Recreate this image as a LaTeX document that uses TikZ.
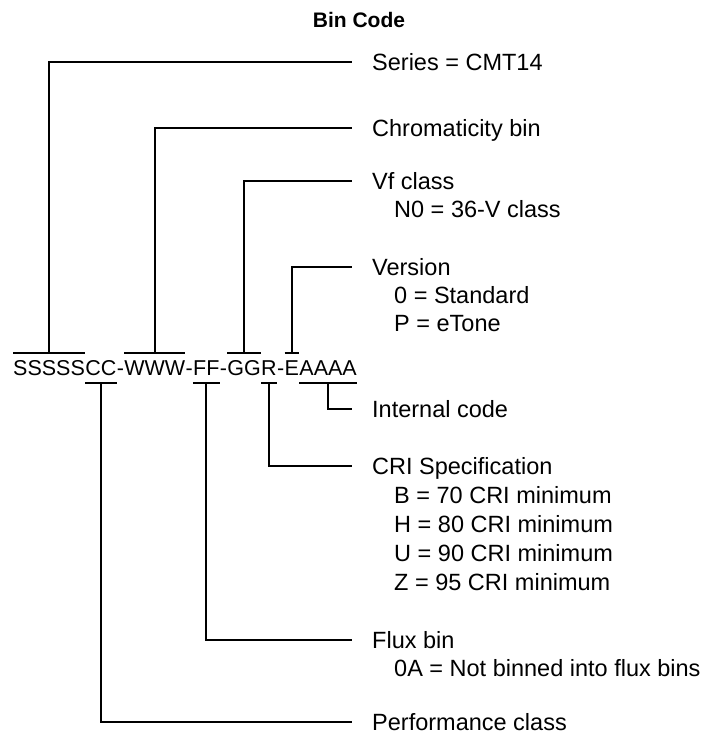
\documentclass[tikz,border=0pt]{standalone}
\usepackage{fontspec}
\setmainfont{Liberation Sans}
\usetikzlibrary{positioning}

\tikzset{
  codepart/.style={inner xsep=0pt, inner ysep=6.8pt, text height=15.4pt, text depth=0pt, font=\fontsize{21.5}{25}\selectfont},
  lbl/.style={anchor=west, inner sep=0pt, text height=16.8pt, text depth=0pt, font=\fontsize{23.5}{28}\selectfont},
  bar/.style={line width=1.7pt},
  lead/.style={line width=1.7pt}
}

\begin{document}
\begin{tikzpicture}[x=1pt,y=-1pt]
  \useasboundingbox (0,0) rectangle (723,738);

  %title
  \node[font=\bfseries\fontsize{21}{25}\selectfont] (title) at (359,20) {Bin Code};

  %the code, piece by piece
  \node[codepart, anchor=west] (ss) at (13,368) {SSSSS};
  \node[codepart, right=0pt of ss] (cc) {CC};
  \node[codepart, right=0pt of cc] (d1) {-};
  \node[codepart, right=0pt of d1] (ww) {WWW};
  \node[codepart, right=0pt of ww] (d2) {-};
  \node[codepart, right=0pt of d2] (ff) {FF};
  \node[codepart, right=0pt of ff] (d3) {-};
  \node[codepart, right=0pt of d3] (gg) {GG};
  \node[codepart, right=0pt of gg] (rr) {R};
  \node[codepart, right=0pt of rr] (d4) {-};
  \node[codepart, right=0pt of d4] (ee) {E};
  \node[codepart, right=0pt of ee] (aa) {AAAA};

  %over and under bars
  \foreach \p in {ss,ww,gg,ee}
    \draw[bar] (\p.north west) -- (\p.north east);
  \foreach \p in {cc,ff,rr,aa}
    \draw[bar] (\p.south west) -- (\p.south east);

  %labels above
  \node[lbl] (series) at (372,62) {Series = CMT14};
  \node[lbl] (chrom) at (372,128) {Chromaticity bin};
  \node[lbl] (vf) at (372,181) {Vf class};
  \node[lbl] (vfa) at (394,209) {N0 = 36-V class};
  \node[lbl] (ver) at (372,267) {Version};
  \node[lbl] (vera) at (394,295) {0 = Standard};
  \node[lbl] (verb) at (394,323) {P = eTone};

  %labels below
  \node[lbl] (intl) at (372,409) {Internal code};
  \node[lbl] (cri) at (372,466) {CRI Specification};
  \node[lbl] (cria) at (394,495) {B = 70 CRI minimum};
  \node[lbl] (crib) at (394,524) {H = 80 CRI minimum};
  \node[lbl] (cric) at (394,553) {U = 90 CRI minimum};
  \node[lbl] (crid) at (394,582) {Z = 95 CRI minimum};
  \node[lbl] (flux) at (372,640) {Flux bin};
  \node[lbl] (fluxa) at (394,668) {0A = Not binned into flux bins};
  \node[lbl] (perf) at (372,722) {Performance class};

  %leaders
  \draw[lead] (ss.north) |- ([xshift=-20pt]series.west);
  \draw[lead] (ww.north) |- ([xshift=-20pt]chrom.west);
  \draw[lead] (gg.north) |- ([xshift=-20pt]vf.west);
  \draw[lead] (ee.north) |- ([xshift=-20pt]ver.west);
  \draw[lead] (aa.south) |- ([xshift=-20pt]intl.west);
  \draw[lead] (rr.south) |- ([xshift=-20pt]cri.west);
  \draw[lead] (ff.south) |- ([xshift=-20pt]flux.west);
  \draw[lead] (cc.south) |- ([xshift=-20pt]perf.west);

\end{tikzpicture}
\end{document}
